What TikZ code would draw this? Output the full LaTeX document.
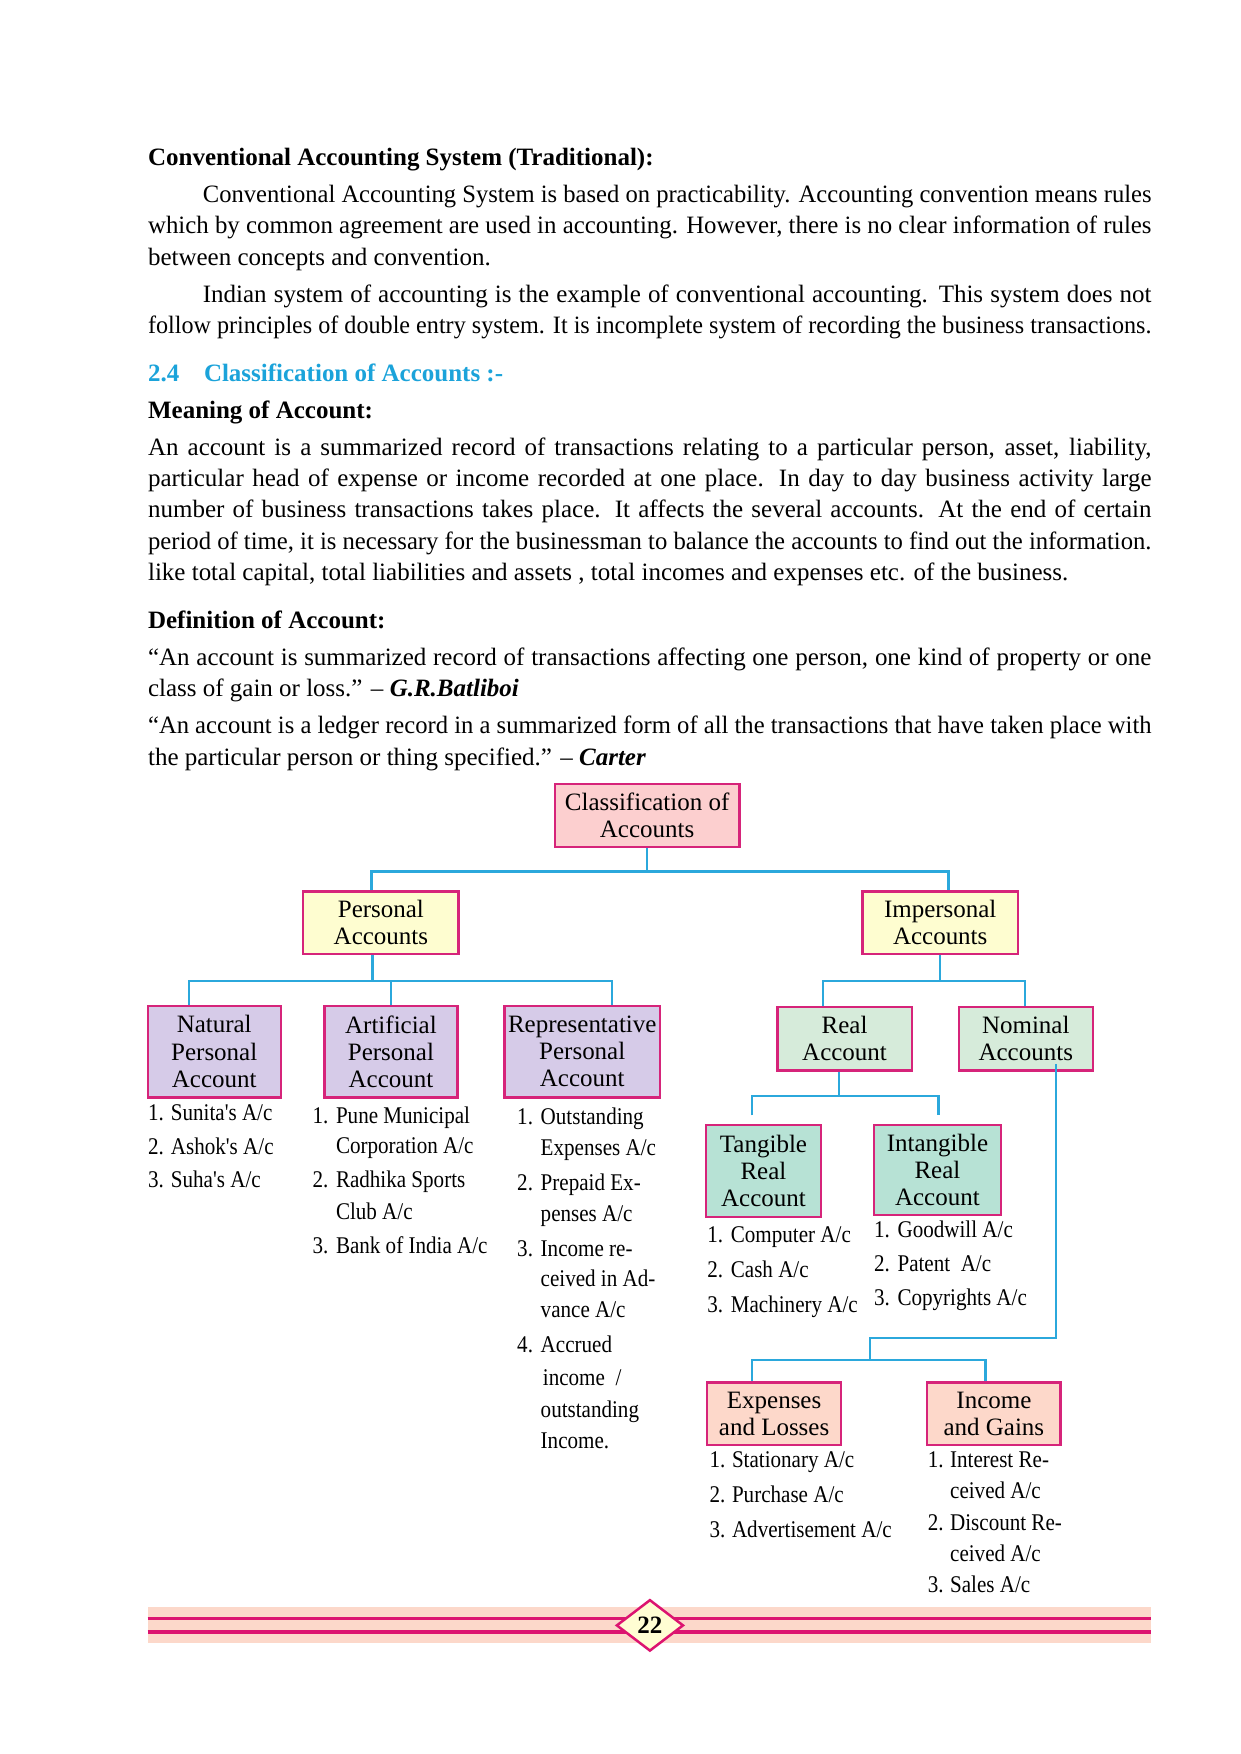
\documentclass[tikz,border=0pt]{standalone}
\usepackage{fontspec}
\usepackage{graphicx}
\setmainfont{Liberation Serif}
\newfontfamily\condfont{Liberation Serif}[FakeStretch=0.88]
\usetikzlibrary{calc,shapes.geometric}
\newlength\pu \setlength\pu{0.5372pt}
\newlength\jlw
\newcommand\jline[2]{\settowidth\jlw{#2}\ifdim\jlw>#1\relax\resizebox{#1}{\height}{#2}\else\makebox[#1][s]{#2}\fi}
\newcommand\bodyfont{\fontsize{12pt}{15pt}\selectfont}
\newcommand\listfont{\condfont\fontsize{11.5pt}{14pt}\selectfont}
\newcommand\boxfont{\fontsize{12pt}{13pt}\selectfont}
\definecolor{bordc}{HTML}{D6247A}
\definecolor{connc}{HTML}{2BA8DC}
\definecolor{chead}{HTML}{1BA3DA}
\definecolor{ctop}{HTML}{FCCFCF}
\definecolor{cyel}{HTML}{FEFDD0}
\definecolor{clav}{HTML}{D6CBE8}
\definecolor{cgreen}{HTML}{D6EBDA}
\definecolor{cteal}{HTML}{B7E2D5}
\definecolor{csal}{HTML}{FDD8CA}
\definecolor{cband}{HTML}{FCD8CA}
\definecolor{cfoot}{HTML}{DC1470}
\definecolor{cdia}{HTML}{FFFDD3}
\tikzset{
  box/.style={draw=bordc, line width=1.1pt, inner sep=0pt, align=center, font=\boxfont},
  conn/.style={draw=connc, line width=1.1pt},
  bodyline/.style={anchor=base west, inner sep=0pt, font=\bodyfont},
  litem/.style={anchor=base west, inner sep=0pt, font=\listfont},
}
\begin{document}
\begin{tikzpicture}[x=0.5372pt, y=-0.5372pt]
\useasboundingbox[fill=white] (0,0) rectangle (1109,1568);

% ---------- body text ----------
\node[bodyline] (t1) at (132,148) {\bfseries Conventional Accounting System (Traditional):};
\node[bodyline] (p1) at (181,181) {\jline{848\pu}{Conventional Accounting System is based on practicability. Accounting convention means rules}};
\node[bodyline] (p2) at (132,209) {\jline{897\pu}{which by common agreement are used in accounting. However, there is no clear information of rules}};
\node[bodyline] (p3) at (132,237) {between concepts and convention.};
\node[bodyline] (p4) at (181,270) {\jline{848\pu}{Indian system of accounting is the example of conventional accounting. This system does not}};
\node[bodyline] (p5) at (132,298) {\jline{897\pu}{follow principles of double entry system. It is incomplete system of recording the business transactions.}};

\node[bodyline, text=chead, font=\bodyfont\bfseries] (h24a) at (132,341) {2.4};
\node[bodyline, text=chead, font=\bodyfont\bfseries] (h24b) at (182,341) {Classification of Accounts :-};

\node[bodyline] (t2) at (132,374) {\bfseries Meaning of Account:};
\node[bodyline] (m1) at (132,407) {\jline{897\pu}{An account is a summarized record of transactions relating to a particular person, asset, liability,}};
\node[bodyline] (m2) at (132,435) {\jline{897\pu}{particular head of expense or income recorded at one place. In day to day business activity large}};
\node[bodyline] (m3) at (132,463) {\jline{897\pu}{number of business transactions takes place. It affects the several accounts. At the end of certain}};
\node[bodyline] (m4) at (132,491) {\jline{897\pu}{period of time, it is necessary for the businessman to balance the accounts to find out the information.}};
\node[bodyline] (m5) at (132,519) {like total capital, total liabilities and assets , total incomes and expenses etc. of the business.};

\node[bodyline] (t3) at (132,562) {\bfseries Definition of Account:};
\node[bodyline] (d1) at (132,595) {\jline{897\pu}{“An account is summarized record of transactions affecting one person, one kind of property or one}};
\node[bodyline] (d2) at (132,623) {class of gain or loss.” – \textbf{\textit{G.R.Batliboi}}};
\node[bodyline] (d3) at (132,656) {\jline{897\pu}{“An account is a ledger record in a summarized form of all the transactions that have taken place with}};
\node[bodyline] (d4) at (132,684) {the particular person or thing specified.” – \textbf{\textit{Carter}}};

% ---------- boxes ----------
\node[box, fill=ctop, minimum width=165\pu, minimum height=56\pu] (top) at (578.5,729) {Classification of\\Accounts};
\node[box, fill=cyel, minimum width=139\pu, minimum height=56\pu] (pers) at (340.5,825) {Personal\\Accounts};
\node[box, fill=cyel, minimum width=139\pu, minimum height=56\pu] (imp) at (840.5,825) {Impersonal\\Accounts};
\node[box, fill=clav, minimum width=119\pu, minimum height=82\pu] (nat) at (191.5,940) {Natural\\Personal\\Account};
\node[box, fill=clav, minimum width=119\pu, minimum height=82\pu] (art) at (349.5,940) {Artificial\\Personal\\Account};
\node[box, fill=clav, minimum width=139\pu, minimum height=82\pu] (rep) at (520.5,940) {Representative\\Personal\\Account};
\node[box, fill=cgreen, minimum width=120\pu, minimum height=57\pu] (real) at (755,928.5) {Real\\Account};
\node[box, fill=cgreen, minimum width=120\pu, minimum height=57\pu] (nom) at (917,928.5) {Nominal\\Accounts};
\node[box, fill=cteal, minimum width=103\pu, minimum height=82\pu] (tang) at (682.5,1047) {Tangible\\Real\\Account};
\node[box, fill=cteal, minimum width=114\pu, minimum height=80\pu] (intang) at (838,1046) {Intangible\\Real\\Account};
\node[box, fill=csal, minimum width=120\pu, minimum height=56\pu] (exp) at (692,1264) {Expenses\\and Losses};
\node[box, fill=csal, minimum width=119\pu, minimum height=56\pu] (inc) at (888.5,1264) {Income\\and Gains};

% ---------- connectors ----------
\draw[conn] (top.south) -- ++(0,21) coordinate (j1);
\draw[conn] ($(pers.north)+(-8.5,0)$) |- (j1) -| ($(imp.north)+(7.5,0)$);

\draw[conn] ($(pers.south)+(-7.5,0)$) -- ++(0,23) coordinate (j2);
\draw[conn] ($(nat.north)+(-22.5,0)$) |- (j2) -| ($(rep.north)+(26.5,0)$);
\draw[conn] (art.north) -- (art.north |- j2);

\draw[conn] (imp.south) -- ++(0,23) coordinate (j3);
\draw[conn] ($(real.north)+(-19,0)$) |- (j3) -| ($(nom.north)+(-1,0)$);

\draw[conn] ($(real.south)+(-5,0)$) -- ++(0,22) coordinate (j4);
\draw[conn] ($(tang.north)+(-10.5,-8)$) |- (j4) -| ($(intang.north)+(1,-8)$);

\coordinate (j5) at (778,1196);
\coordinate (j6) at (778,1216);
\draw[conn] ($(nom.south)+(27,-7)$) |- (j5) -- (j6);
\draw[conn] ($(exp.north)+(-20,0)$) |- (j6) -| ($(inc.north)+(-7.5,0)$);

% ---------- lists ----------
% Natural
\node[litem] (na1) at (132,1002) {1. Sunita's A/c};
\node[litem] (na2) at (132,1032) {2. Ashok's A/c};
\node[litem] (na3) at (132,1062) {3. Suha's A/c};
% Artificial
\node[litem] (ar1n) at (279,1004) {1.};
\node[litem] (ar1) at (300,1004) {Pune Municipal};
\node[litem] (ar1b) at (300,1031) {Corporation A/c};
\node[litem] (ar2n) at (279,1062) {2.};
\node[litem] (ar2) at (300,1062) {Radhika Sports};
\node[litem] (ar2b) at (300,1090) {Club A/c};
\node[litem] (ar3n) at (279,1121) {3.};
\node[litem] (ar3) at (300,1121) {Bank of India A/c};
% Representative
\node[litem] (re1n) at (462,1005) {1.};
\node[litem] (re1) at (483,1005) {Outstanding};
\node[litem] (re1b) at (483,1033) {Expenses A/c};
\node[litem] (re2n) at (462,1064) {2.};
\node[litem] (re2) at (483,1064) {Prepaid Ex-};
\node[litem] (re2b) at (483,1092) {penses A/c};
\node[litem] (re3n) at (462,1123) {3.};
\node[litem] (re3) at (483,1123) {Income re-};
\node[litem] (re3b) at (483,1150) {ceived in Ad-};
\node[litem] (re3c) at (483,1178) {vance A/c};
\node[litem] (re4n) at (462,1209) {4.};
\node[litem] (re4) at (483,1209) {Accrued};
\node[litem] (re4b) at (485,1239) {income\ \ /};
\node[litem] (re4c) at (483,1267) {outstanding};
\node[litem] (re4d) at (483,1295) {Income.};
% Tangible
\node[litem] (ta1n) at (632,1111) {1.};
\node[litem] (ta1) at (653,1111) {Computer A/c};
\node[litem] (ta2n) at (632,1142) {2.};
\node[litem] (ta2) at (653,1142) {Cash A/c};
\node[litem] (ta3n) at (632,1173) {3.};
\node[litem] (ta3) at (653,1173) {Machinery A/c};
% Intangible
\node[litem] (in1n) at (781,1106) {1.};
\node[litem] (in1) at (802,1106) {Goodwill A/c};
\node[litem] (in2n) at (781,1137) {2.};
\node[litem] (in2) at (802,1137) {Patent\ \ A/c};
\node[litem] (in3n) at (781,1167) {3.};
\node[litem] (in3) at (802,1167) {Copyrights A/c};
% Expenses
\node[litem] (ex1n) at (634,1312) {1.};
\node[litem] (ex1) at (654,1312) {Stationary A/c};
\node[litem] (ex2n) at (634,1343) {2.};
\node[litem] (ex2) at (654,1343) {Purchase A/c};
\node[litem] (ex3n) at (634,1374) {3.};
\node[litem] (ex3) at (654,1374) {Advertisement A/c};
% Income
\node[litem] (ic1n) at (829,1312) {1.};
\node[litem] (ic1) at (849,1312) {Interest Re-};
\node[litem] (ic1b) at (849,1340) {ceived A/c};
\node[litem] (ic2n) at (829,1368) {2.};
\node[litem] (ic2) at (849,1368) {Discount Re-};
\node[litem] (ic2b) at (849,1396) {ceived A/c};
\node[litem] (ic3n) at (829,1424) {3.};
\node[litem] (ic3) at (849,1424) {Sales A/c};

% ---------- footer ----------
\fill[cband] (132,1437) rectangle (1029,1469);
\draw[cfoot, line width=1.6pt] (132,1447) -- (1029,1447);
\draw[cfoot, line width=1.6pt] (132,1459) -- (1029,1459);
\node[diamond, draw=cfoot, fill=cdia, line width=1.2pt, minimum width=60\pu, minimum height=46\pu, inner sep=0pt, font=\fontsize{12pt}{14pt}\selectfont\bfseries] (pg) at (581,1453) {22};
\end{tikzpicture}
\end{document}
